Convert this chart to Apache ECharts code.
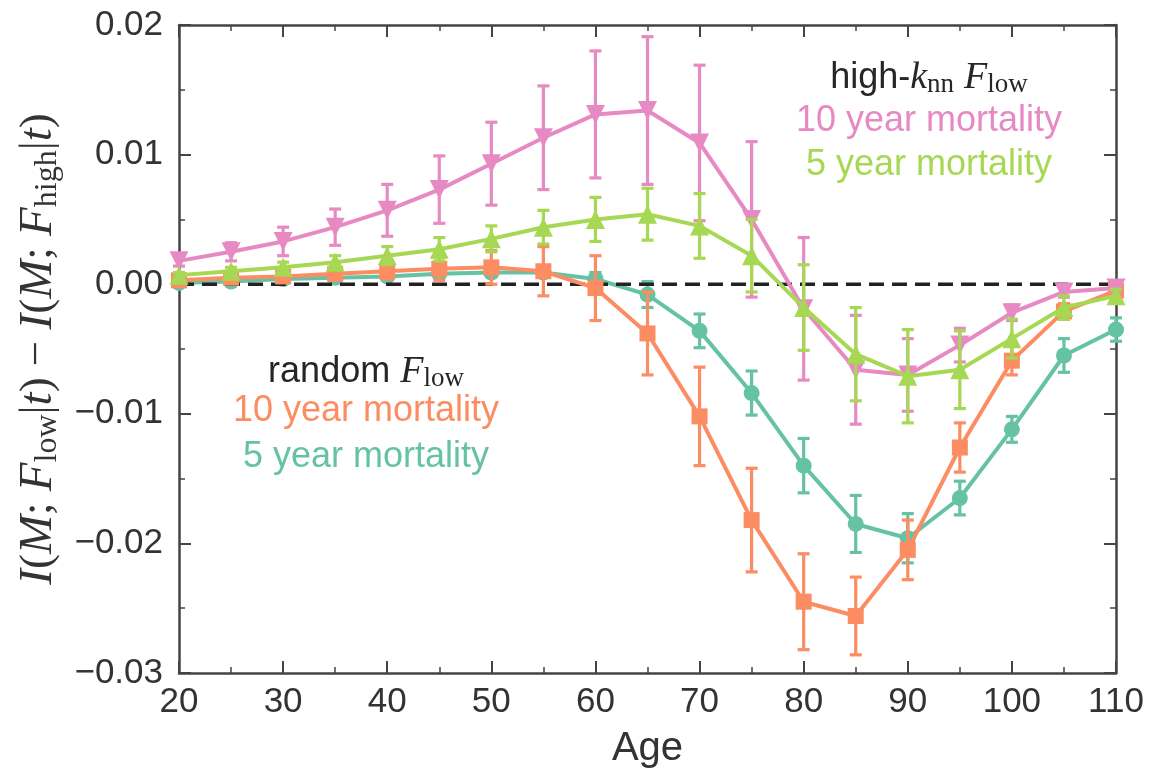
<!DOCTYPE html>
<html>
<head>
<meta charset="utf-8">
<script src="https://cdn.jsdelivr.net/npm/echarts@6/dist/echarts.min.js"></script>
<style>
html,body{margin:0;padding:0;background:#fff;}
#chart{width:1158px;height:774px;}
</style>
</head>
<body>
<div id="chart"></div>
<script>
// ---- data ----
const ages = [20,25,30,35,40,45,50,55,60,65,70,75,80,85,90,95,100,105,110];

// random F_low, 5 year mortality (teal circles)
const rand5 = [0.0001,0.0002,0.0004,0.0005,0.0006,0.0008,0.0009,0.0009,0.0004,-0.0008,-0.0036,-0.0084,-0.0140,-0.0185,-0.0196,-0.0165,-0.0112,-0.0055,-0.0035];
const rand5Err = [0.0001,0.0001,0.0001,0.0002,0.0002,0.0002,0.0003,0.0003,0.0005,0.0010,0.0013,0.0017,0.0021,0.0022,0.0019,0.0013,0.0010,0.0013,0.0009];

// random F_low, 10 year mortality (orange squares)
const rand10 = [0.0003,0.0005,0.0006,0.0008,0.0010,0.0012,0.0013,0.0010,-0.0003,-0.0038,-0.0102,-0.0182,-0.0245,-0.0256,-0.0205,-0.0126,-0.0059,-0.0021,-0.0005];
const rand10Err = [0.0002,0.0002,0.0003,0.0004,0.0006,0.0009,0.0013,0.0019,0.0025,0.0032,0.0038,0.0040,0.0037,0.0030,0.0023,0.0019,0.0011,0.0006,0.0003];

// high-knn F_low, 10 year mortality (pink down-triangles)
const high10 = [0.0018,0.0025,0.0033,0.0044,0.0057,0.0073,0.0093,0.0113,0.0131,0.0134,0.0109,0.0050,-0.0019,-0.0066,-0.0070,-0.0047,-0.0022,-0.0006,-0.0003];
const high10Err = [0.0004,0.0007,0.0011,0.0014,0.0020,0.0026,0.0032,0.0040,0.0049,0.0057,0.0060,0.0060,0.0055,0.0042,0.0028,0.0013,0.0006,0.0004,0.0003];

// high-knn F_low, 5 year mortality (green up-triangles)
const high5 = [0.0007,0.0010,0.0013,0.0017,0.0022,0.0027,0.0035,0.0044,0.0050,0.0054,0.0045,0.0022,-0.0018,-0.0054,-0.0071,-0.0066,-0.0042,-0.0018,-0.0009];
const high5Err = [0.0002,0.0003,0.0004,0.0005,0.0007,0.0009,0.0010,0.0013,0.0017,0.0020,0.0025,0.0028,0.0033,0.0036,0.0036,0.0030,0.0015,0.0009,0.0005];

const xTicks = {min:20, max:110, interval:10};
const yTicks = {min:-0.03, max:0.02, interval:0.01};

// ---- chart ----
const C = {teal:'#66c2a5', orange:'#fc8d62', pink:'#e78ac3', green:'#a6d854'};
const axisColor = '#444444';
const textColor = '#333333';

function errSeries(vals, errs, color, z){
  return {
    type:'custom', z:z, silent:true,
    data: ages.map((a,i)=>[a, vals[i], errs[i]]),
    encode:{x:0, y:1},
    renderItem:(params, api)=>{
      const x = api.value(0), v = api.value(1), e = api.value(2);
      const t = api.coord([x, v+e]), b = api.coord([x, v-e]);
      const w = 6, st = {stroke:color, lineWidth:3.2};
      return {type:'group', children:[
        {type:'line', shape:{x1:t[0],y1:t[1],x2:b[0],y2:b[1]}, style:st},
        {type:'line', shape:{x1:t[0]-w,y1:t[1],x2:t[0]+w,y2:t[1]}, style:st},
        {type:'line', shape:{x1:b[0]-w,y1:b[1],x2:b[0]+w,y2:b[1]}, style:st}
      ]};
    }
  };
}
function lineSeries(name, vals, color, symbol, size, rot, z){
  return {
    name:name, type:'line', z:z,
    data: ages.map((a,i)=>[a, vals[i]]),
    symbol:symbol, symbolSize:size, symbolRotate:rot, showSymbol:true,
    lineStyle:{color:color, width:4},
    itemStyle:{color:color, borderWidth:0},
    emphasis:{disabled:true}
  };
}

const serifI = {fontFamily:'Liberation Serif', fontStyle:'italic', fontSize:47, color:textColor, lineHeight:50};
const serifN = {fontFamily:'Liberation Serif', fontSize:45, color:textColor, lineHeight:50};
const serifS = {fontFamily:'Liberation Serif', fontSize:32, color:textColor, verticalAlign:'bottom', lineHeight:30};

function fmtY(v){
  const r = Math.round(v*100)/100;
  if (r === 0) return '0.00';
  return (r<0?'\u2212':'') + Math.abs(r).toFixed(2);
}

const commonAxisLine = {show:true, onZero:false, lineStyle:{color:axisColor, width:2.5}};
const tickStyle = {show:true, inside:true, length:12, lineStyle:{color:axisColor, width:2}};
const minorStyle = {show:true, splitNumber:2, length:6, lineStyle:{color:axisColor, width:1.5}};

const option = {
  animation:false,
  backgroundColor:'#ffffff',
  grid:{left:179, right:42, top:25, bottom:98, containLabel:false},
  xAxis:[
    {type:'value', position:'bottom', min:xTicks.min, max:xTicks.max, interval:xTicks.interval,
     axisLine:commonAxisLine, axisTick:tickStyle, minorTick:minorStyle,
     splitLine:{show:false}, minorSplitLine:{show:false},
     axisLabel:{show:true, fontSize:35, color:textColor, fontFamily:'Liberation Sans', margin:12},
     name:'Age', nameLocation:'middle', nameGap:56,
     nameTextStyle:{fontSize:40, color:textColor, fontFamily:'Liberation Sans'}},
    {type:'value', position:'top', min:xTicks.min, max:xTicks.max, interval:xTicks.interval,
     axisLine:commonAxisLine, axisTick:tickStyle, minorTick:minorStyle,
     splitLine:{show:false}, axisLabel:{show:false}}
  ],
  yAxis:[
    {type:'value', position:'left', min:yTicks.min, max:yTicks.max, interval:yTicks.interval,
     axisLine:commonAxisLine, axisTick:tickStyle, minorTick:minorStyle,
     splitLine:{show:false}, minorSplitLine:{show:false},
     axisLabel:{show:true, fontSize:35, color:textColor, fontFamily:'Liberation Sans', margin:16, formatter:fmtY},
     name:'{i|I}{n|(}{i|M}{n|; }{i|F}{s|low}{n||}{i|t}{n|) \u2212 }{i|I}{n|(}{i|M}{n|; }{i|F}{s|high}{n||}{i|t}{n|)}',
     nameLocation:'middle', nameRotate:90, nameGap:114,
     nameTextStyle:{rich:{i:serifI, n:serifN, s:serifS}}},
    {type:'value', position:'right', min:yTicks.min, max:yTicks.max, interval:yTicks.interval,
     axisLine:commonAxisLine, axisTick:tickStyle, minorTick:minorStyle,
     splitLine:{show:false}, axisLabel:{show:false}}
  ],
  series:[
    errSeries(rand5, rand5Err, C.teal, 2),
    lineSeries('random 5 year', rand5, C.teal, 'circle', 16, 0, 3),
    {type:'line', z:4, data:[[xTicks.min,0],[xTicks.max,0]], symbol:'none', silent:true,
     lineStyle:{color:'#222222', width:3.5, type:[15,8]}},
    errSeries(rand10, rand10Err, C.orange, 5),
    lineSeries('random 10 year', rand10, C.orange, 'rect', 16, 0, 6),
    errSeries(high10, high10Err, C.pink, 7),
    lineSeries('high 10 year', high10, C.pink, 'triangle', 19, 180, 8),
    errSeries(high5, high5Err, C.green, 9),
    lineSeries('high 5 year', high5, C.green, 'triangle', 19, 0, 10)
  ],
  graphic:[
    {type:'text', x:929, y:78, z:100, style:{
      text:'{r|high-}{i|k}{s|nn}{r| }{i|F}{s|low}', align:'center', verticalAlign:'middle',
      rich:{r:{fontFamily:'Liberation Sans', fontSize:36, fill:'#262626', lineHeight:40},
            i:{fontFamily:'Liberation Serif', fontStyle:'italic', fontSize:38, fill:'#262626', lineHeight:40},
            s:{fontFamily:'Liberation Serif', fontSize:27, fill:'#262626', verticalAlign:'bottom', lineHeight:26}}}},
    {type:'text', x:929, y:121, z:100, style:{text:'10 year mortality', align:'center', verticalAlign:'middle',
      font:'36px "Liberation Sans"', fill:C.pink}},
    {type:'text', x:929, y:165, z:100, style:{text:'5 year mortality', align:'center', verticalAlign:'middle',
      font:'36px "Liberation Sans"', fill:C.green}},
    {type:'text', x:366, y:372, z:100, style:{
      text:'{r|random }{i|F}{s|low}', align:'center', verticalAlign:'middle',
      rich:{r:{fontFamily:'Liberation Sans', fontSize:36, fill:'#262626', lineHeight:40},
            i:{fontFamily:'Liberation Serif', fontStyle:'italic', fontSize:38, fill:'#262626', lineHeight:40},
            s:{fontFamily:'Liberation Serif', fontSize:27, fill:'#262626', verticalAlign:'bottom', lineHeight:26}}}},
    {type:'text', x:366, y:411, z:100, style:{text:'10 year mortality', align:'center', verticalAlign:'middle',
      font:'36px "Liberation Sans"', fill:C.orange}},
    {type:'text', x:366, y:457, z:100, style:{text:'5 year mortality', align:'center', verticalAlign:'middle',
      font:'36px "Liberation Sans"', fill:C.teal}}
  ]
};

const chart = echarts.init(document.getElementById('chart'), null, {renderer:'canvas'});
chart.setOption(option);
</script>
</body>
</html>
